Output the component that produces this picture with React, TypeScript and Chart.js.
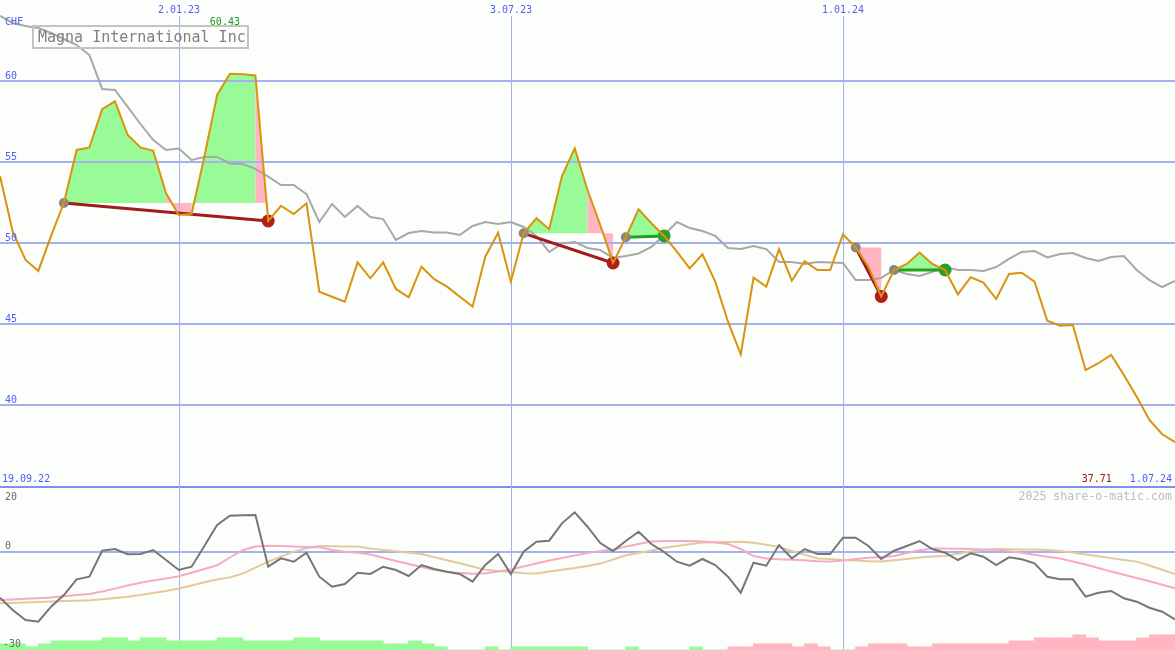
import React, { useEffect, useRef } from 'react';
import { Chart, registerables } from 'chart.js';

Chart.register(...registerables);

// ---------- data (weekly, 93 points) ----------
const priceCHF = [
  54.12, 50.67, 48.95, 48.27, 50.43, 52.46, 55.73, 55.89, 58.24, 58.73,
  56.65, 55.89, 55.68, 53.06, 51.72, 51.78, 55.31, 59.12, 60.43, 60.40,
  60.32, 51.35, 52.29, 51.78, 52.44, 46.99, 46.68, 46.37, 48.80, 47.82,
  48.80, 47.16, 46.65, 48.53, 47.76, 47.30, 46.68, 46.07, 49.15, 50.63,
  47.61, 50.59, 51.52, 50.84, 54.12, 55.83, 53.26, 51.10, 48.76, 50.35,
  52.07, 51.21, 50.43, 49.46, 48.43, 49.30, 47.61, 45.14, 43.13, 47.85,
  47.30, 49.61, 47.67, 48.88, 48.33, 48.33, 50.53, 49.72, 48.51, 46.70,
  48.33, 48.70, 49.40, 48.70, 48.33, 46.83, 47.88, 47.55, 46.54, 48.08,
  48.16, 47.61, 45.20, 44.90, 44.94, 42.16, 42.58, 43.09, 41.86, 40.52,
  39.08, 38.20, 37.71,
];

const benchmark = [
  63.99, 63.56, 63.37, 63.25, 62.94, 62.57, 62.20, 61.58, 59.49, 59.43,
  58.38, 57.33, 56.34, 55.73, 55.82, 55.11, 55.30, 55.30, 54.90, 54.86,
  54.56, 54.09, 53.57, 53.57, 53.01, 51.29, 52.40, 51.60, 52.28, 51.60,
  51.47, 50.18, 50.61, 50.73, 50.64, 50.64, 50.49, 51.04, 51.29, 51.17,
  51.29, 50.98, 50.43, 49.44, 49.96, 50.06, 49.69, 49.56, 49.07, 49.19,
  49.35, 49.75, 50.49, 51.29, 50.92, 50.73, 50.43, 49.69, 49.62, 49.81,
  49.62, 48.82, 48.82, 48.70, 48.82, 48.79, 48.76, 47.71, 47.71, 47.84,
  48.33, 48.08, 47.96, 48.21, 48.51, 48.33, 48.33, 48.27, 48.51, 49.01,
  49.44, 49.50, 49.10, 49.32, 49.38, 49.07, 48.88, 49.13, 49.19, 48.33,
  47.71, 47.28, 47.65,
];

const momentum = [
  -14.26, -18.06, -21.14, -21.67, -17.04, -13.43, -8.58, -7.78, 0.25, 0.77,
  -0.86, -0.77, 0.46, -2.62, -5.71, -4.69, 1.70, 8.18, 11.05, 11.17,
  11.27, -4.69, -2.10, -3.15, -0.37, -7.78, -10.86, -10.03, -6.54, -6.94,
  -4.69, -5.71, -7.56, -4.17, -5.40, -6.23, -6.94, -9.32, -4.17, -0.77,
  -6.94, -0.06, 3.02, 3.33, 8.70, 12.10, 7.65, 2.62, 0.15, 3.24,
  6.11, 2.31, -0.15, -3.15, -4.38, -2.31, -4.17, -7.78, -12.72, -3.46,
  -4.38, 2.00, -2.10, 0.77, -0.77, -0.77, 4.26, 4.26, 1.70, -2.31,
  0.25, 1.70, 3.24, 0.77, -0.37, -2.62, -0.56, -1.60, -4.17, -1.79,
  -2.41, -3.64, -7.78, -8.58, -8.58, -13.95, -12.72, -12.19, -14.44, -15.49,
  -17.35, -18.58, -20.93,
];

const signalPink = [
  -14.97, -14.78, -14.60, -14.41, -14.23, -13.83, -13.46, -13.09, -12.35, -11.45,
  -10.52, -9.66, -8.98, -8.33, -7.65, -6.57, -5.40, -4.23, -1.85, 0.40,
  1.54, 1.79, 1.70, 1.57, 1.42, 1.30, 0.46, -0.09, -0.37, -0.93,
  -1.91, -2.93, -3.86, -4.78, -5.65, -6.33, -6.64, -6.88, -6.70, -6.17,
  -5.56, -4.63, -3.70, -2.78, -2.01, -1.23, -0.46, 0.15, 0.62, 1.51,
  2.31, 3.09, 3.24, 3.24, 3.24, 3.06, 2.75, 2.31, 0.77, -1.39,
  -2.16, -2.41, -2.56, -2.72, -2.99, -3.12, -2.78, -2.31, -1.94, -1.70,
  -1.39, -0.46, 0.37, 0.90, 0.93, 0.83, 0.74, 0.62, 0.52, 0.09,
  -0.40, -1.02, -1.60, -2.16, -3.06, -4.04, -5.09, -6.20, -7.19, -8.15,
  -9.17, -10.28, -11.36,
];

const signalTan = [
  -15.99, -15.86, -15.71, -15.59, -15.43, -15.31, -15.19, -15.03, -14.75, -14.35,
  -13.95, -13.43, -12.81, -12.19, -11.42, -10.49, -9.51, -8.64, -7.99, -6.82,
  -5.00, -3.15, -1.60, -0.03, 1.02, 1.70, 1.64, 1.57, 1.51, 0.93,
  0.46, 0.06, -0.37, -0.77, -1.73, -2.69, -3.64, -4.63, -5.62, -6.02,
  -6.36, -6.70, -6.76, -6.17, -5.62, -5.12, -4.47, -3.73, -2.47, -1.17,
  -0.46, 0.31, 1.14, 1.70, 2.22, 2.78, 2.87, 2.93, 3.02, 2.68,
  2.07, 1.39, 0.19, -1.02, -2.13, -2.35, -2.62, -2.78, -2.99, -3.12,
  -2.72, -2.31, -1.85, -1.57, -1.39, -0.71, 0.00, 0.46, 0.77, 0.71,
  0.65, 0.59, 0.49, 0.15, -0.31, -0.90, -1.45, -2.04, -2.62, -3.12,
  -4.32, -5.65, -6.94,
];

// weekly flow bars between points (positive = green, negative = pink)
const flowBars = [
  2, 2, 1, 2, 3, 3, 3, 3, 4, 4,
  3, 4, 4, 3, 3, 3, 3, 4, 4, 3,
  3, 3, 3, 4, 4, 3, 3, 3, 3, 3,
  2, 2, 3, 2, 1, 0, 0, 0, 1, 0,
  1, 1, 1, 1, 1, 1, 0, 0, 0, 1,
  0, 0, 0, 0, 1, 0, 0, -1, -1, -2,
  -2, -2, -1, -2, -1, 0, 0, -1, -2, -2,
  -2, -1, -1, -2, -2, -2, -2, -2, -2, -3,
  -3, -4, -4, -4, -5, -4, -3, -3, -3, -4,
  -5, -5,
];

const priceTicks = [40, 45, 50, 55, 60];
const oscZero = 0;
const oscTop = 20;
const oscBottom = -30;
const dateTickIdx = [14, 40, 66];
const dateTickLabels = ['2.01.23', '3.07.23', '1.01.24'];
const startLabel = '19.09.22';
const endLabel = '1.07.24';
const currency = 'CHF';
const title = 'Magna International Inc';
const watermark = '2025 share-o-matic.com';

// pivot patterns (index of start and end points)
const patternStart = [5, 41, 49, 67, 70];
const patternEnd = [21, 48, 52, 69, 74];
const patternUp = [false, false, true, false, true];
const pinkSegments = [13, 14, 20, 46, 47, 67, 68];

// ---------- styles ----------
const BG = '#fcfefc';
const ORANGE = '#d9930c';
const GRID = '#a3b1f2';
const SEP = '#7f8ff0';
const BLUE_TXT = '#4f5ff2';
const FILL_GREEN = '#98fb98';
const FILL_PINK = '#ffb6c1';
const MONO = '"DejaVu Sans Mono", "Liberation Mono", monospace';

const overlay = {
  id: 'overlay',
  beforeDraw(chart: any) {
    const { ctx, width, height } = chart;
    ctx.save();
    ctx.fillStyle = BG;
    ctx.fillRect(0, 0, width, height);
    ctx.restore();
  },
  beforeDatasetsDraw(chart: any) {
    const { ctx, width, height } = chart;
    const { x, y, yo } = chart.scales;
    ctx.save();
    // pattern fills
    patternStart.forEach((s: number, p: number) => {
      const e = patternEnd[p];
      const base = y.getPixelForValue(priceCHF[s]);
      let runStart = s;
      for (let i = s; i < e; i++) {
        const pinkNow = pinkSegments.includes(i);
        const last = i + 1 >= e || pinkSegments.includes(i + 1) !== pinkNow;
        if (last) {
          ctx.beginPath();
          ctx.moveTo(x.getPixelForValue(runStart), base);
          for (let j = runStart; j <= i + 1; j++) {
            ctx.lineTo(x.getPixelForValue(j), y.getPixelForValue(priceCHF[j]));
          }
          ctx.lineTo(x.getPixelForValue(i + 1), base);
          ctx.closePath();
          ctx.fillStyle = pinkNow ? FILL_PINK : FILL_GREEN;
          ctx.fill();
          runStart = i + 1;
        }
      }
    });

    // horizontal grid
    ctx.lineWidth = 2;
    ctx.strokeStyle = GRID;
    priceTicks.forEach((v) => {
      const py = Math.round(y.getPixelForValue(v));
      ctx.beginPath();
      ctx.moveTo(0, py);
      ctx.lineTo(width, py);
      ctx.stroke();
    });
    const pz = Math.round(yo.getPixelForValue(oscZero));
    ctx.beginPath();
    ctx.moveTo(0, pz);
    ctx.lineTo(width, pz);
    ctx.stroke();
    // separator
    ctx.strokeStyle = SEP;
    const ps = Math.round(yo.getPixelForValue(oscTop));
    ctx.beginPath();
    ctx.moveTo(0, ps);
    ctx.lineTo(width, ps);
    ctx.stroke();
    // vertical date lines
    ctx.lineWidth = 1;
    ctx.strokeStyle = GRID;
    dateTickIdx.forEach((i) => {
      const px = Math.round(x.getPixelForValue(i)) + 0.5;
      ctx.beginPath();
      ctx.moveTo(px, 16);
      ctx.lineTo(px, height);
      ctx.stroke();
    });
    ctx.restore();
  },
  afterDatasetsDraw(chart: any) {
    const { ctx, width } = chart;
    const { x, y, yo } = chart.scales;
    ctx.save();
    ctx.font = `10px ${MONO}`;
    ctx.textBaseline = 'alphabetic';
    // price labels
    ctx.fillStyle = BLUE_TXT;
    ctx.textAlign = 'left';
    priceTicks.forEach((v) => {
      ctx.fillText(String(v), 5, Math.round(y.getPixelForValue(v)) - 2);
    });
    ctx.fillText(currency, 5, 25);
    // date labels
    ctx.textAlign = 'center';
    dateTickIdx.forEach((i, k) => {
      ctx.fillText(dateTickLabels[k], Math.round(x.getPixelForValue(i)), 13);
    });
    // max label
    let maxI = 0;
    let minI = 0;
    priceCHF.forEach((v, i) => {
      if (v > priceCHF[maxI]) maxI = i;
      if (v < priceCHF[minI]) minI = i;
    });
    ctx.fillStyle = '#1f9a1f';
    ctx.fillText(priceCHF[maxI].toFixed(2), x.getPixelForValue(maxI) - 5, 25);
    // bottom labels of main panel
    const sepY = yo.getPixelForValue(oscTop);
    ctx.textAlign = 'left';
    ctx.fillStyle = BLUE_TXT;
    ctx.fillText(startLabel, 2, sepY - 4.5);
    ctx.textAlign = 'right';
    ctx.fillText(endLabel, width - 3, sepY - 4.5);
    const endW = ctx.measureText(endLabel).width;
    ctx.fillStyle = '#a01515';
    ctx.fillText(priceCHF[minI].toFixed(2), width - 3 - endW - 18, sepY - 4.5);
    // watermark
    ctx.font = `11.6px ${MONO}`;
    ctx.fillStyle = '#bdbdbd';
    ctx.fillText(watermark, width - 3, sepY + 13.5);
    // oscillator labels
    ctx.font = `10px ${MONO}`;
    ctx.fillStyle = '#6a6a6a';
    ctx.textAlign = 'left';
    ctx.fillText(String(oscTop), 5, sepY + 13);
    ctx.fillText(String(oscZero), 5, yo.getPixelForValue(oscZero) - 2.5);
    ctx.fillText(String(oscBottom), 3, yo.getPixelForValue(oscBottom) - 2);
    // title box
    ctx.strokeStyle = '#c4c4c4';
    ctx.lineWidth = 2;
    ctx.strokeRect(33, 26, 215, 22);
    ctx.font = `15px ${MONO}`;
    ctx.fillStyle = '#808080';
    ctx.textAlign = 'left';
    ctx.fillText(title, 38, 42);
    ctx.restore();
  },
};

export default function App() {
  const ref = useRef<HTMLCanvasElement>(null);

  useEffect(() => {
    document.body.style.margin = '0';
    const canvas = ref.current;
    if (!canvas) return;
    const pts = (arr: number[]) => arr.map((v, i) => ({ x: i, y: v }));

    const pivotSets = patternStart.map((s, p) => {
      const e = patternEnd[p];
      const endColor = patternUp[p] ? '#2b9e2b' : '#b01e1e';
      return {
        type: 'line',
        label: `pivot${p}`,
        data: [
          { x: s, y: priceCHF[s] },
          { x: e, y: priceCHF[e] },
        ],
        xAxisID: 'x',
        yAxisID: 'y',
        borderColor: patternUp[p] ? '#22a022' : '#a31b1b',
        borderWidth: 3,
        pointRadius: [5, 6.5],
        pointBackgroundColor: ['#878787', endColor],
        pointBorderWidth: 0,
        pointBorderColor: 'rgba(0,0,0,0)',
        order: 1,
      };
    });

    const datasets: any[] = [
      {
        type: 'line',
        label: 'Magna International Inc',
        data: pts(priceCHF),
        xAxisID: 'x',
        yAxisID: 'y',
        borderColor: ORANGE,
        borderWidth: 2,
        pointRadius: 0,
        order: 0,
      },
      ...pivotSets,
      {
        type: 'line',
        label: 'benchmark',
        data: pts(benchmark),
        xAxisID: 'x',
        yAxisID: 'y',
        borderColor: '#a8a8a8',
        borderWidth: 2,
        pointRadius: 0,
        order: 2,
      },
      {
        type: 'line',
        label: 'momentum',
        data: pts(momentum),
        xAxisID: 'x',
        yAxisID: 'yo',
        borderColor: '#767676',
        borderWidth: 2,
        pointRadius: 0,
        order: 3,
      },
      {
        type: 'line',
        label: 'signal pink',
        data: pts(signalPink),
        xAxisID: 'x',
        yAxisID: 'yo',
        borderColor: '#f8a9c6',
        borderWidth: 2,
        pointRadius: 0,
        order: 4,
      },
      {
        type: 'line',
        label: 'signal tan',
        data: pts(signalTan),
        xAxisID: 'x',
        yAxisID: 'yo',
        borderColor: '#e3c99b',
        borderWidth: 2,
        pointRadius: 0,
        order: 5,
      },
      {
        type: 'bar',
        label: 'flow',
        data: flowBars.map((v) => Math.abs(v)),
        backgroundColor: flowBars.map((v) => (v >= 0 ? FILL_GREEN : FILL_PINK)),
        xAxisID: 'xb',
        yAxisID: 'yv',
        barPercentage: 1,
        categoryPercentage: 1,
        grouped: false,
        borderWidth: 0,
        borderSkipped: false,
        inflateAmount: 0.5,
        order: 6,
      },
    ];

    const chart = new Chart(canvas, {
      type: 'line',
      data: { datasets },
      options: {
        animation: false,
        responsive: false,
        maintainAspectRatio: false,
        events: [],
        layout: { padding: 0, autoPadding: false },
        datasets: { bar: { barPercentage: 1, categoryPercentage: 1 } },
        plugins: {
          legend: { display: false },
          tooltip: { enabled: false },
          title: { display: false },
        },
        scales: {
          x: { type: 'linear', min: 0, max: priceCHF.length - 1, display: false },
          xb: {
            type: 'category',
            labels: flowBars.map((_, i) => String(i)),
            offset: true,
            display: false,
          },
          y: { type: 'linear', min: 24.901, max: 64.975, display: false },
          yo: { type: 'linear', min: -30.4, max: 170.22, display: false },
          yv: { type: 'linear', min: 0, max: 216.67, display: false },
        },
      } as any,
      plugins: [overlay],
    } as any);

    return () => chart.destroy();
  }, []);

  return <canvas ref={ref} width={1175} height={650} style={{ display: 'block' }} />;
}
